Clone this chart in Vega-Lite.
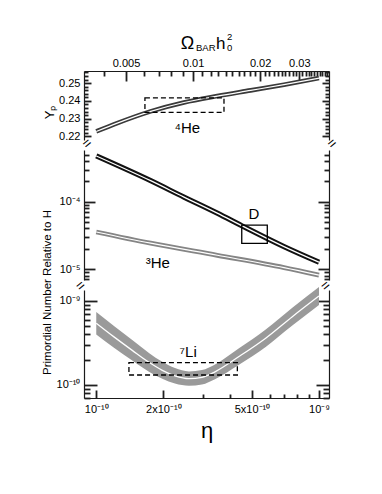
{
  "$schema": "https://vega.github.io/schema/vega-lite/v6.json",
  "background": "white",
  "padding": {"left": 40, "top": 32, "right": 5, "bottom": 5},
  "bounds": "flush",
  "spacing": 10,
  "config": {
    "view": {"stroke": null},
    "font": "Liberation Sans",
    "axis": {"grid": false, "domainColor": "#1a1a1a", "domainWidth": 1.2, "labelFont": "Liberation Sans", "labelFontSize": 11, "labelColor": "#000", "titleFont": "Liberation Sans", "titleFontWeight": "normal", "titleColor": "#000", "labelOverlap": false, "labelFlush": false},
    "text": {"font": "Liberation Sans", "color": "#000"}
  },
  "datasets": {
    "he4": [
      {"eta": 1e-10, "Yp": 0.2228},
      {"eta": 1.243e-10, "Yp": 0.2275},
      {"eta": 1.755e-10, "Yp": 0.2341},
      {"eta": 2.476e-10, "Yp": 0.2391},
      {"eta": 3.494e-10, "Yp": 0.2427},
      {"eta": 4.935e-10, "Yp": 0.2459},
      {"eta": 6.965e-10, "Yp": 0.2491},
      {"eta": 1e-9, "Yp": 0.2528}
    ],
    "dh": [
      {"eta": 1e-10, "v": 4.78e-4},
      {"eta": 1.755e-10, "v": 2.05e-4},
      {"eta": 2.476e-10, "v": 1.17e-4},
      {"eta": 3.494e-10, "v": 6.75e-5},
      {"eta": 4.5e-10, "v": 4.4e-5},
      {"eta": 6.965e-10, "v": 2.15e-5},
      {"eta": 1e-9, "v": 1.26e-5}
    ],
    "he3": [
      {"eta": 1e-10, "v": 3.55e-5},
      {"eta": 1.755e-10, "v": 2.42e-5},
      {"eta": 3.494e-10, "v": 1.6e-5},
      {"eta": 6.965e-10, "v": 1.05e-5},
      {"eta": 1e-9, "v": 8.1e-6}
    ],
    "li7": [
      {"eta": 1e-10, "lo": 3.98e-10, "mid": 5.43e-10, "hi": 7.4e-10},
      {"eta": 1.201e-10, "lo": 2.77e-10, "mid": 3.73e-10, "hi": 5.02e-10},
      {"eta": 1.451e-10, "lo": 1.946e-10, "mid": 2.574e-10, "hi": 3.41e-10},
      {"eta": 1.724e-10, "lo": 1.432e-10, "mid": 1.853e-10, "hi": 2.4e-10},
      {"eta": 1.979e-10, "lo": 1.179e-10, "mid": 1.488e-10, "hi": 1.878e-10},
      {"eta": 2.256e-10, "lo": 1.036e-10, "mid": 1.279e-10, "hi": 1.58e-10},
      {"eta": 2.608e-10, "lo": 9.73e-11, "mid": 1.185e-10, "hi": 1.443e-10},
      {"eta": 2.982e-10, "lo": 1.008e-10, "mid": 1.228e-10, "hi": 1.496e-10},
      {"eta": 3.412e-10, "lo": 1.166e-10, "mid": 1.428e-10, "hi": 1.749e-10},
      {"eta": 4.373e-10, "lo": 1.731e-10, "mid": 2.172e-10, "hi": 2.726e-10},
      {"eta": 5.764e-10, "lo": 2.826e-10, "mid": 3.597e-10, "hi": 4.579e-10},
      {"eta": 7.59e-10, "lo": 5.08e-10, "mid": 6.5e-10, "hi": 8.32e-10},
      {"eta": 1e-9, "lo": 8.96e-10, "mid": 1.147e-9, "hi": 1.468e-9}
    ],
    "he4box": [{"x1": 1.654e-10, "x2": 3.745e-10, "y1": 0.2335, "y2": 0.2417}],
    "dbox": [{"x1": 4.5e-10, "x2": 5.86e-10, "y1": 2.41e-5, "y2": 4.5e-5}],
    "libox": [{"x1": 1.402e-10, "x2": 4.3e-10, "y1": 1.308e-10, "y2": 1.834e-10}]
  },
  "vconcat": [
    {
      "width": 245,
      "height": 69,
      "resolve": {"axis": {"y": "independent"}},
      "layer": [
        {
          "data": {"name": "he4"},
          "mark": {"type": "line", "color": "#3a3a3a", "strokeWidth": 4.6, "interpolate": "monotone"},
          "encoding": {
            "x": {"field": "eta", "type": "quantitative", "scale": {"type": "log", "domain": [8.81e-11, 1.109e-9], "nice": false},
              "axis": {"orient": "top", "values": [1.088e-10, 1.36e-10, 1.632e-10, 1.904e-10, 2.176e-10, 2.448e-10, 2.72e-10, 2.992e-10, 3.264e-10, 3.536e-10, 3.808e-10, 4.08e-10, 4.352e-10, 4.624e-10, 4.896e-10, 5.168e-10, 5.44e-10, 5.712e-10, 5.984e-10, 6.256e-10, 6.528e-10, 6.8e-10, 7.072e-10, 7.344e-10, 7.616e-10, 7.888e-10, 8.16e-10, 8.432e-10, 8.704e-10, 8.976e-10, 9.248e-10, 9.52e-10, 9.792e-10, 1.0064e-9, 1.0336e-9, 1.0608e-9, 1.088e-9],
                "ticks": true, "tickColor": "#202020", "tickWidth": 1.8,
                "tickSize": {"condition": {"test": "indexof([5,10,20,30], round(datum.value/2.72e-11)) >= 0", "value": -10}, "value": -5},
                "labelPadding": 13,
                "labelExpr": "indexof([5,10,20,30], round(datum.value/2.72e-11)) >= 0 ? format(datum.value/2.72e-8, '.3~g') : ''",
                "title": null}},
            "y": {"field": "Yp", "type": "quantitative", "scale": {"domain": [0.218, 0.2568], "nice": false, "zero": false},
              "axis": {"orient": "left", "values": [0.22, 0.222, 0.224, 0.226, 0.228, 0.23, 0.232, 0.234, 0.236, 0.238, 0.24, 0.242, 0.244, 0.246, 0.248, 0.25, 0.252, 0.254, 0.256],
                "ticks": true, "tickColor": "#202020", "tickWidth": 1.8,
                "tickSize": {"condition": {"test": "abs(datum.value*100 - round(datum.value*100)) < 0.01", "value": -7}, "value": -4},
                "labelPadding": 11,
                "labelExpr": "abs(datum.value*100 - round(datum.value*100)) < 0.01 ? format(datum.value, '.2f') : ''",
                "title": "Yₚ", "titleFontSize": 13, "titleX": -35, "titleY": 41, "titleBaseline": "middle", "titleAngle": -90}}
          }
        },
        {
          "data": {"name": "he4"},
          "mark": {"type": "line", "color": "white", "strokeWidth": 1.2, "interpolate": "monotone"},
          "encoding": {
            "x": {"field": "eta", "type": "quantitative"},
            "y": {"field": "Yp", "type": "quantitative",
              "axis": {"orient": "right", "values": [0.22, 0.222, 0.224, 0.226, 0.228, 0.23, 0.232, 0.234, 0.236, 0.238, 0.24, 0.242, 0.244, 0.246, 0.248, 0.25, 0.252, 0.254, 0.256],
                "ticks": true, "tickColor": "#202020", "tickWidth": 1.8,
                "tickSize": {"condition": {"test": "abs(datum.value*100 - round(datum.value*100)) < 0.01", "value": -7}, "value": -4},
                "labels": false, "title": null}}
          }
        },
        {
          "data": {"name": "he4box"},
          "mark": {"type": "rect", "fillOpacity": 0, "stroke": "#000", "strokeWidth": 1.3, "strokeDash": [5, 3]},
          "encoding": {
            "x": {"field": "x1", "type": "quantitative"},
            "x2": {"field": "x2"},
            "y": {"field": "y1", "type": "quantitative", "axis": null},
            "y2": {"field": "y2"}
          }
        },
        {
          "data": {"values": [{}]},
          "mark": {"type": "text", "text": "⁴He", "fontSize": 15, "align": "center", "baseline": "middle"},
          "encoding": {"x": {"datum": 2.563e-10, "type": "quantitative"}, "y": {"datum": 0.2247, "type": "quantitative", "axis": null}}
        },
        {
          "data": {"values": [{}]},
          "mark": {"type": "text", "text": "Ω", "fontSize": 18, "align": "left", "baseline": "alphabetic"},
          "encoding": {"x": {"datum": 2.393e-10, "type": "quantitative"}, "y": {"datum": 0.269, "type": "quantitative", "axis": null}}
        },
        {
          "data": {"values": [{}]},
          "mark": {"type": "text", "text": "BAR", "fontSize": 9.5, "align": "left", "baseline": "alphabetic"},
          "encoding": {"x": {"datum": 2.804e-10, "type": "quantitative"}, "y": {"datum": 0.26805, "type": "quantitative", "axis": null}}
        },
        {
          "data": {"values": [{}]},
          "mark": {"type": "text", "text": "h", "fontSize": 17, "align": "left", "baseline": "alphabetic"},
          "encoding": {"x": {"datum": 3.447e-10, "type": "quantitative"}, "y": {"datum": 0.269, "type": "quantitative", "axis": null}}
        },
        {
          "data": {"values": [{}]},
          "mark": {"type": "text", "text": "0", "fontSize": 9.5, "align": "left", "baseline": "alphabetic"},
          "encoding": {"x": {"datum": 3.863e-10, "type": "quantitative"}, "y": {"datum": 0.26805, "type": "quantitative", "axis": null}}
        },
        {
          "data": {"values": [{}]},
          "mark": {"type": "text", "text": "2", "fontSize": 9.5, "align": "left", "baseline": "alphabetic"},
          "encoding": {"x": {"datum": 3.863e-10, "type": "quantitative"}, "y": {"datum": 0.27423, "type": "quantitative", "axis": null}}
        },
        {
          "data": {"values": [{}]},
          "mark": {"type": "text", "text": "=", "fontSize": 14, "angle": -40, "align": "center", "baseline": "middle", "dy": 5},
          "encoding": {"x": {"datum": 8.81e-11, "type": "quantitative"}, "y": {"datum": 0.218, "type": "quantitative", "axis": null}}
        },
        {
          "data": {"values": [{}]},
          "mark": {"type": "text", "text": "=", "fontSize": 14, "angle": -40, "align": "center", "baseline": "middle", "dy": 5},
          "encoding": {"x": {"datum": 1.109e-9, "type": "quantitative"}, "y": {"datum": 0.218, "type": "quantitative", "axis": null}}
        }
      ]
    },
    {
      "width": 245,
      "height": 130,
      "resolve": {"axis": {"y": "independent"}},
      "layer": [
        {
          "data": {"name": "dh"},
          "mark": {"type": "line", "color": "#111111", "strokeWidth": 5.2, "interpolate": "monotone"},
          "encoding": {
            "x": {"field": "eta", "type": "quantitative", "scale": {"type": "log", "domain": [8.81e-11, 1.109e-9], "nice": false}, "axis": null},
            "y": {"field": "v", "type": "quantitative", "scale": {"type": "log", "domain": [6.87e-6, 5.86e-4], "nice": false},
              "axis": {"orient": "left", "values": [7e-6, 8e-6, 9e-6, 1e-5, 2e-5, 3e-5, 4e-5, 5e-5, 6e-5, 7e-5, 8e-5, 9e-5, 1e-4, 2e-4, 3e-4, 4e-4, 5e-4],
                "ticks": true, "tickColor": "#202020", "tickWidth": 1.8,
                "tickSize": {"condition": {"test": "abs(log(datum.value)/LN10 - round(log(datum.value)/LN10)) < 0.001", "value": -11}, "value": -5},
                "labelPadding": 15,
                "labelExpr": "abs(log(datum.value)/LN10 - round(log(datum.value)/LN10)) < 0.001 ? (datum.value > 5e-5 ? '10⁻⁴' : '10⁻⁵') : ''",
                "title": null}}
          }
        },
        {
          "data": {"name": "dh"},
          "mark": {"type": "line", "color": "white", "strokeWidth": 1.3, "interpolate": "monotone"},
          "encoding": {
            "x": {"field": "eta", "type": "quantitative"},
            "y": {"field": "v", "type": "quantitative",
              "axis": {"orient": "right", "values": [7e-6, 8e-6, 9e-6, 1e-5, 2e-5, 3e-5, 4e-5, 5e-5, 6e-5, 7e-5, 8e-5, 9e-5, 1e-4, 2e-4, 3e-4, 4e-4, 5e-4],
                "ticks": true, "tickColor": "#202020", "tickWidth": 1.8,
                "tickSize": {"condition": {"test": "abs(log(datum.value)/LN10 - round(log(datum.value)/LN10)) < 0.001", "value": -11}, "value": -5},
                "labels": false, "title": null}}
          }
        },
        {
          "data": {"name": "he3"},
          "mark": {"type": "line", "color": "#858585", "strokeWidth": 4.8, "interpolate": "monotone"},
          "encoding": {
            "x": {"field": "eta", "type": "quantitative"},
            "y": {"field": "v", "type": "quantitative", "axis": null}
          }
        },
        {
          "data": {"name": "he3"},
          "mark": {"type": "line", "color": "white", "strokeWidth": 1.2, "interpolate": "monotone"},
          "encoding": {
            "x": {"field": "eta", "type": "quantitative"},
            "y": {"field": "v", "type": "quantitative", "axis": null}
          }
        },
        {
          "data": {"name": "dbox"},
          "mark": {"type": "rect", "fillOpacity": 0, "stroke": "#000", "strokeWidth": 1.3},
          "encoding": {
            "x": {"field": "x1", "type": "quantitative"},
            "x2": {"field": "x2"},
            "y": {"field": "y1", "type": "quantitative", "axis": null},
            "y2": {"field": "y2"}
          }
        },
        {
          "data": {"values": [{}]},
          "mark": {"type": "text", "text": "D", "fontSize": 15, "align": "center", "baseline": "middle"},
          "encoding": {"x": {"datum": 5.108e-10, "type": "quantitative"}, "y": {"datum": 6.63e-5, "type": "quantitative", "axis": null}}
        },
        {
          "data": {"values": [{}]},
          "mark": {"type": "text", "text": "³He", "fontSize": 15, "align": "center", "baseline": "middle"},
          "encoding": {"x": {"datum": 1.889e-10, "type": "quantitative"}, "y": {"datum": 1.215e-5, "type": "quantitative", "axis": null}}
        }
      ]
    },
    {
      "width": 245,
      "height": 108,
      "resolve": {"axis": {"y": "independent"}},
      "layer": [
        {
          "data": {"name": "li7"},
          "mark": {"type": "area", "color": "#9a9a9a", "interpolate": "monotone"},
          "encoding": {
            "x": {"field": "eta", "type": "quantitative", "scale": {"type": "log", "domain": [8.81e-11, 1.109e-9], "nice": false},
              "axis": {"orient": "bottom", "values": [1e-10, 2e-10, 3e-10, 4e-10, 5e-10, 6e-10, 7e-10, 8e-10, 9e-10, 1e-9],
                "ticks": true, "tickColor": "#202020", "tickWidth": 1.8,
                "tickSize": {"condition": {"test": "indexof([1,2,5,10], round(datum.value/1e-10)) >= 0", "value": -8}, "value": -4},
                "labelPadding": 13,
                "labelExpr": "indexof([1,2,5,10], round(datum.value/1e-10)) < 0 ? '' : datum.value < 1.5e-10 ? '10⁻¹⁰' : datum.value < 3e-10 ? '2x10⁻¹⁰' : datum.value < 7e-10 ? '5x10⁻¹⁰' : '10⁻⁹'",
                "title": "η", "titleFontSize": 22, "titlePadding": 2}},
            "y": {"field": "hi", "type": "quantitative", "scale": {"type": "log", "domain": [6.95e-11, 1.352e-9], "nice": false},
              "axis": {"orient": "left", "values": [7e-11, 8e-11, 9e-11, 1e-10, 2e-10, 3e-10, 4e-10, 5e-10, 6e-10, 7e-10, 8e-10, 9e-10, 1e-9],
                "ticks": true, "tickColor": "#202020", "tickWidth": 1.8,
                "tickSize": {"condition": {"test": "abs(log(datum.value)/LN10 - round(log(datum.value)/LN10)) < 0.001", "value": -13}, "value": -6},
                "labelPadding": 17,
                "labelExpr": "abs(log(datum.value)/LN10 - round(log(datum.value)/LN10)) < 0.001 ? (datum.value > 5e-10 ? '10⁻⁹' : '10⁻¹⁰') : ''",
                "title": "Primordial Number Relative to H", "titleFontSize": 11.5, "titleX": -37, "titleY": 2, "titleBaseline": "middle", "titleAngle": -90}},
            "y2": {"field": "lo"}
          }
        },
        {
          "data": {"name": "li7"},
          "mark": {"type": "line", "color": "white", "strokeWidth": 1.3, "interpolate": "monotone"},
          "encoding": {
            "x": {"field": "eta", "type": "quantitative"},
            "y": {"field": "mid", "type": "quantitative",
              "axis": {"orient": "right", "values": [7e-11, 8e-11, 9e-11, 1e-10, 2e-10, 3e-10, 4e-10, 5e-10, 6e-10, 7e-10, 8e-10, 9e-10, 1e-9],
                "ticks": true, "tickColor": "#202020", "tickWidth": 1.8,
                "tickSize": {"condition": {"test": "abs(log(datum.value)/LN10 - round(log(datum.value)/LN10)) < 0.001", "value": -13}, "value": -6},
                "labels": false, "title": null}}
          }
        },
        {
          "data": {"name": "libox"},
          "mark": {"type": "rect", "fillOpacity": 0, "stroke": "#000", "strokeWidth": 1.3, "strokeDash": [5, 3]},
          "encoding": {
            "x": {"field": "x1", "type": "quantitative"},
            "x2": {"field": "x2"},
            "y": {"field": "y1", "type": "quantitative", "axis": null},
            "y2": {"field": "y2"}
          }
        },
        {
          "data": {"values": [{}]},
          "mark": {"type": "text", "text": "⁷Li", "fontSize": 15, "align": "center", "baseline": "middle"},
          "encoding": {"x": {"datum": 2.586e-10, "type": "quantitative"}, "y": {"datum": 2.48e-10, "type": "quantitative", "axis": null}}
        },
        {
          "data": {"values": [{}]},
          "mark": {"type": "text", "text": "=", "fontSize": 14, "angle": -40, "align": "center", "baseline": "middle", "dy": -5},
          "encoding": {"x": {"datum": 8.81e-11, "type": "quantitative"}, "y": {"datum": 1.352e-9, "type": "quantitative", "axis": null}}
        },
        {
          "data": {"values": [{}]},
          "mark": {"type": "text", "text": "=", "fontSize": 14, "angle": -40, "align": "center", "baseline": "middle", "dy": -5},
          "encoding": {"x": {"datum": 1.109e-9, "type": "quantitative"}, "y": {"datum": 1.352e-9, "type": "quantitative", "axis": null}}
        }
      ]
    }
  ]
}
